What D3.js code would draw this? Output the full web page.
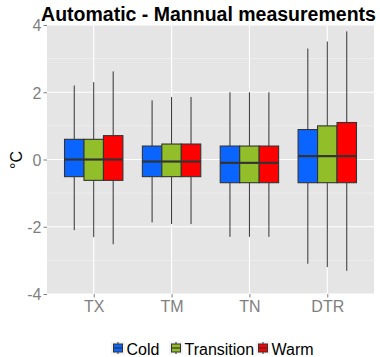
<!DOCTYPE html>
<html>
<head>
<meta charset="utf-8">
<script src="https://cdn.jsdelivr.net/npm/d3@7"></script>
<style>
  html, body { margin: 0; padding: 0; background: #fff; }
  svg { display: block; font-family: "Liberation Sans", Arial, sans-serif; }
</style>
</head>
<body>
<svg id="chart" width="380" height="357"></svg>
<script>
// Variables on the x axis and the season groups dodged within each
const variables = ["TX", "TM", "TN", "DTR"];
const seasons = ["Cold", "Transition", "Warm"];
const seasonColors = ["#0A64FF", "#92BE2A", "#FF0000"];
const yTicks = [-4, -2, 0, 2, 4];
const yMinor = [-3, -1, 1, 3];

// Box statistics per variable, in season order (Cold, Transition, Warm)
const whiskerLow = {
  TX: [-2.1, -2.31, -2.52],
  TM: [-1.87, -1.92, -1.92],
  TN: [-2.3, -2.3, -2.3],
  DTR: [-3.1, -3.2, -3.31]
};
const q1 = {
  TX: [-0.51, -0.62, -0.62],
  TM: [-0.51, -0.51, -0.51],
  TN: [-0.69, -0.69, -0.69],
  DTR: [-0.69, -0.69, -0.69]
};
const median = {
  TX: [0.0, 0.0, 0.0],
  TM: [-0.06, -0.06, -0.06],
  TN: [-0.1, -0.1, -0.1],
  DTR: [0.1, 0.1, 0.1]
};
const q3 = {
  TX: [0.6, 0.6, 0.71],
  TM: [0.4, 0.46, 0.46],
  TN: [0.4, 0.4, 0.4],
  DTR: [0.89, 1.0, 1.1]
};
const whiskerHigh = {
  TX: [2.2, 2.3, 2.62],
  TM: [1.76, 1.86, 1.86],
  TN: [2.0, 2.0, 2.0],
  DTR: [3.3, 3.51, 3.81]
};

const svg = d3.select("#chart");
const panel = { left: 47, right: 374, top: 25, bottom: 294 };

// Discrete axis with 0.6 units of expansion on each side (4.2 units total)
const x = d3.scalePoint()
  .domain(variables)
  .range([panel.left, panel.right])
  .padding(0.6);
const unit = x.step();
const cx = v => x(v);

const y = d3.scaleLinear().domain([-4, 4]).range([panel.bottom, panel.top]);

const sub = d3.scaleBand().domain(seasons).range([-0.375 * unit, 0.375 * unit]);
const color = d3.scaleOrdinal().domain(seasons).range(seasonColors);

// Panel background and grid
svg.append("rect")
  .attr("x", panel.left).attr("y", panel.top)
  .attr("width", panel.right - panel.left).attr("height", panel.bottom - panel.top)
  .attr("fill", "#E5E5E5");

svg.append("g").selectAll("line").data(yMinor).join("line")
  .attr("x1", panel.left).attr("x2", panel.right)
  .attr("y1", d => y(d)).attr("y2", d => y(d))
  .attr("stroke", "#F2F2F2").attr("stroke-width", 0.6);

svg.append("g").selectAll("line").data(yTicks).join("line")
  .attr("x1", panel.left).attr("x2", panel.right)
  .attr("y1", d => y(d)).attr("y2", d => y(d))
  .attr("stroke", "#FFFFFF").attr("stroke-width", 1.1);

svg.append("g").selectAll("line").data(variables).join("line")
  .attr("x1", d => cx(d)).attr("x2", d => cx(d))
  .attr("y1", panel.top).attr("y2", panel.bottom)
  .attr("stroke", "#FFFFFF").attr("stroke-width", 1.1);

// Boxplots
const boxes = [];
variables.forEach(v => {
  seasons.forEach((s, i) => {
    boxes.push({
      v, s,
      lo: whiskerLow[v][i], q1: q1[v][i], med: median[v][i],
      q3: q3[v][i], hi: whiskerHigh[v][i]
    });
  });
});

const bw = sub.bandwidth();
const bx = d => cx(d.v) + sub(d.s);
const g = svg.append("g");

g.selectAll("line.whisk-hi").data(boxes).join("line")
  .attr("class", "whisk-hi")
  .attr("x1", d => bx(d) + bw / 2).attr("x2", d => bx(d) + bw / 2)
  .attr("y1", d => y(d.q3)).attr("y2", d => y(d.hi))
  .attr("stroke", "#333333").attr("stroke-width", 1);

g.selectAll("line.whisk-lo").data(boxes).join("line")
  .attr("class", "whisk-lo")
  .attr("x1", d => bx(d) + bw / 2).attr("x2", d => bx(d) + bw / 2)
  .attr("y1", d => y(d.q1)).attr("y2", d => y(d.lo))
  .attr("stroke", "#333333").attr("stroke-width", 1);

g.selectAll("rect.box").data(boxes).join("rect")
  .attr("class", "box")
  .attr("x", d => bx(d)).attr("width", bw)
  .attr("y", d => y(d.q3)).attr("height", d => y(d.q1) - y(d.q3))
  .attr("fill", d => color(d.s))
  .attr("stroke", "#333333").attr("stroke-width", 1.1);

g.selectAll("line.med").data(boxes).join("line")
  .attr("class", "med")
  .attr("x1", d => bx(d)).attr("x2", d => bx(d) + bw)
  .attr("y1", d => y(d.med)).attr("y2", d => y(d.med))
  .attr("stroke", "#333333").attr("stroke-width", 2.2);

// Axes
const yAxis = svg.append("g")
  .attr("transform", `translate(${panel.left},0)`)
  .call(d3.axisLeft(y).tickValues(yTicks).tickSize(3.5).tickPadding(2).tickFormat(d3.format("d")));
yAxis.select(".domain").remove();
yAxis.selectAll("line").attr("stroke", "#7F7F7F");
yAxis.selectAll("text").attr("fill", "#7F7F7F").style("font-size", "16px")
  .attr("dy", "0.36em")
  .text(d => d < 0 ? "-" + Math.abs(d) : d);

const xAxis = svg.append("g")
  .attr("transform", `translate(0,${panel.bottom})`)
  .call(d3.axisBottom(x).tickSize(3.5).tickPadding(2));
xAxis.select(".domain").remove();
xAxis.selectAll("line").attr("stroke", "#7F7F7F");
xAxis.selectAll("text").attr("fill", "#7F7F7F").style("font-size", "16px")
  .attr("y", 18).attr("dy", 0);

// Axis title
svg.append("text")
  .attr("transform", "translate(22,160) rotate(-90)")
  .attr("text-anchor", "middle")
  .style("font-size", "16px")
  .attr("fill", "#000")
  .text("°C");

// Title
svg.append("text")
  .attr("x", 208.5)
  .attr("y", 20.5)
  .attr("text-anchor", "middle")
  .style("font-size", "19.5px")
  .style("font-weight", "bold")
  .attr("fill", "#000")
  .text("Automatic - Mannual measurements");

// Legend
const legendX = [111, 169, 256];
const legend = svg.append("g").selectAll("g").data(seasons).join("g")
  .attr("transform", (d, i) => `translate(${legendX[i]},341.5)`);
legend.append("rect")
  .attr("width", 14).attr("height", 13).attr("fill", "#F2F2F2");
legend.append("line")
  .attr("x1", 7).attr("x2", 7).attr("y1", 0.5).attr("y2", 12.5)
  .attr("stroke", "#333333").attr("stroke-width", 1);
legend.append("rect")
  .attr("x", 2.5).attr("y", 2.5).attr("width", 9).attr("height", 8)
  .attr("fill", d => color(d)).attr("stroke", "#333333").attr("stroke-width", 1);
legend.append("line")
  .attr("x1", 2.5).attr("x2", 11.5).attr("y1", 6.5).attr("y2", 6.5)
  .attr("stroke", "#333333").attr("stroke-width", 1.2);
legend.append("text")
  .attr("x", 15.5).attr("y", 13)
  .style("font-size", "16px").attr("fill", "#000")
  .text(d => d);
</script>
</body>
</html>
